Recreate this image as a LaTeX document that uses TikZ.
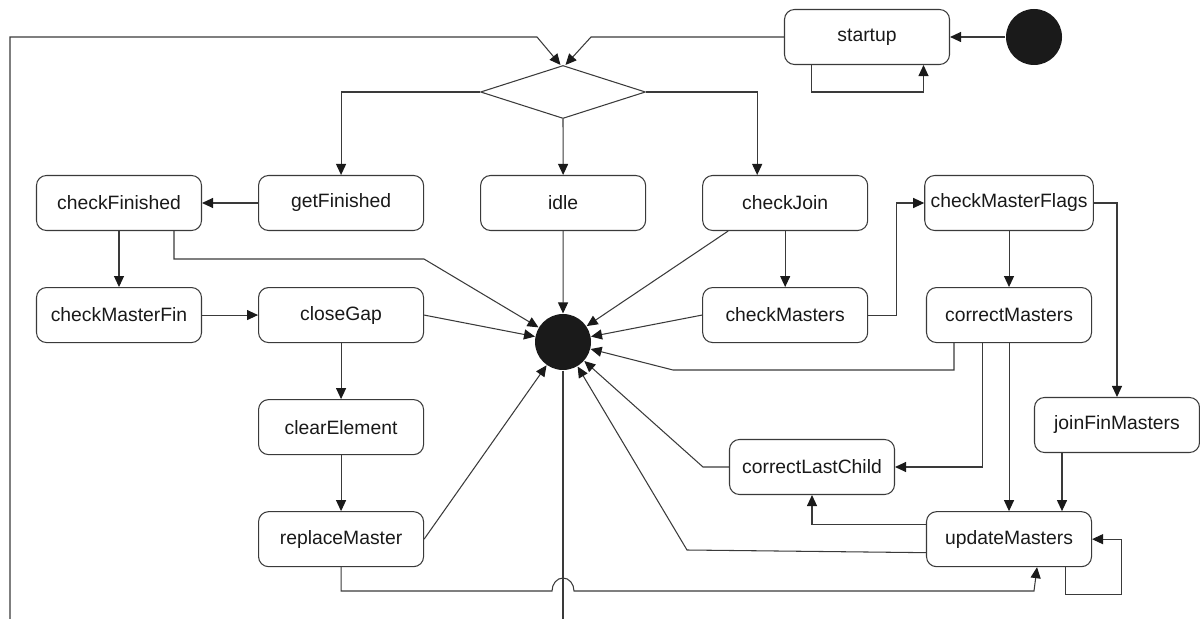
\documentclass[tikz,border=0pt]{standalone}
\usepackage{fontspec}
\setmainfont{Liberation Sans}
\usetikzlibrary{positioning,shapes.geometric,arrows.meta}
\definecolor{edge}{HTML}{3A3A3A}
\definecolor{dot}{HTML}{1A1A1A}

\begin{document}
\begin{tikzpicture}[x=0.2mm, y=-0.2mm, node distance=11.2mm, line width=0.6pt, color=edge, >={Triangle[length=2.2mm,width=2mm,color=dot]}, main/.style = {draw, rounded corners=2mm, minimum width=33mm, minimum height=11mm, text=black!90, font=\fontsize{11}{13}\selectfont}, dot/.style = {circle, fill=dot, minimum size=11.2mm, inner sep=0}]
        \useasboundingbox (0,0) rectangle (1200,619);

        \node[dot] (START) at (1034,37) {};
        \node[main] (SU) at (867,37) {startup};
        \node[draw, diamond, minimum width=33mm, minimum height=10.6mm, inner sep=0] (DEC) at (563,92) {};

        \node[main] (CF) at (119,203) {checkFinished};
        \node[main] (GF) [right=of CF] {getFinished};
        \node[main] (ID) [right=of GF] {idle};
        \node[main] (CJ) [right=of ID] {checkJoin};
        \node[main] (CMF) [right=of CJ] {checkMasterFlags};

        \node[main] (CMFIN) [below=of CF] {checkMasterFin};
        \node[main] (CG) [below=of GF] {closeGap};
        \node[main] (CM) [below=of CJ] {checkMasters};
        \node[main] (CRM) [below=of CMF] {correctMasters};

        \node[main] (CE) [below=of CG] {clearElement};
        \node[main] (RM) [below=of CE] {replaceMaster};
        \node[main] (UM) at (CMF |- RM) {updateMasters};
        \node[main] (JFM) at (1117,425) {joinFinMasters};
        \node[main] (CLC) at (812,467) {correctLastChild};

        \node[dot] (FIN) at (563,342) {};
        \coordinate (L) at (10,619);
        \coordinate (B) at (563,619);

        \draw[->] (START) -- (SU);
        \draw[->] ([xshift=-11.1mm]SU.south) -- ++(0,27) -| ([xshift=11.3mm]SU.south);
        \draw[->] (SU.west) -- (591,37) -- ([xshift=0.5mm]DEC.north);
        \draw[->] (L) -- (10,37) -- (537,37) -- ([xshift=-0.5mm]DEC.north);

        \draw[->] (DEC.west) -| (GF.north);
        \draw[->] (DEC.south) -- (ID.north);
        \draw[->] (DEC.east) -| ([xshift=-5.6mm]CJ.north);

        \draw[->] (GF.west) -- (CF.east);
        \draw[->] (CF.south) -- (CMFIN.north);
        \draw[->] ([xshift=11mm]CF.south) |- (424,259) -- (FIN);
        \draw[->] (CMFIN.east) -- (CG.west);
        \draw[->] (CG.east) -- (FIN);
        \draw[->] (CG.south) -- (CE.north);
        \draw[->] (CE.south) -- (RM.north);
        \draw[->] (RM.east) -- (FIN);
        \draw[->] (ID.south) -- (FIN);

        \draw[->] ([xshift=-11.4mm]CJ.south) -- (FIN);
        \draw[->] (CJ.south) -- (CM.north);
        \draw[->] (CM.west) -- (FIN);
        \draw[->] (CM.east) -- ++(28,0) |- (CMF.west);
        \draw[->] (CMF.east) -| (JFM.north);
        \draw[->] (CMF.south) -- (CRM.north);

        \draw[->] ([xshift=-11mm]CRM.south) |- (673,370) -- (FIN);
        \draw[->] ([xshift=-5.4mm]CRM.south) |- (CLC.east);
        \draw[->] (CRM.south) -- (UM.north);
        \draw[->] ([xshift=-11mm]JFM.south) -- ([xshift=-11mm]JFM.south |- UM.north);

        \draw[->] ([yshift=2.9mm]UM.west) -| (CLC.south);
        \draw[->] ([yshift=-2.7mm]UM.west) -- (687,550) -- (FIN);
        \draw[->] (CLC.west) -- ++(-26,0) -- (FIN);
        \draw[->] ([xshift=11.2mm]UM.south) -- ++(0,27) -- ++(56,0) |- (UM.east);

        \draw (FIN) -- (B);
        \draw[->] (RM.south) |- (552,591) arc[start angle=180, end angle=0, x radius=2.2mm, y radius=2.6mm] -- (1034,591) -- ([xshift=5.6mm]UM.south);
    \end{tikzpicture}
\end{document}
